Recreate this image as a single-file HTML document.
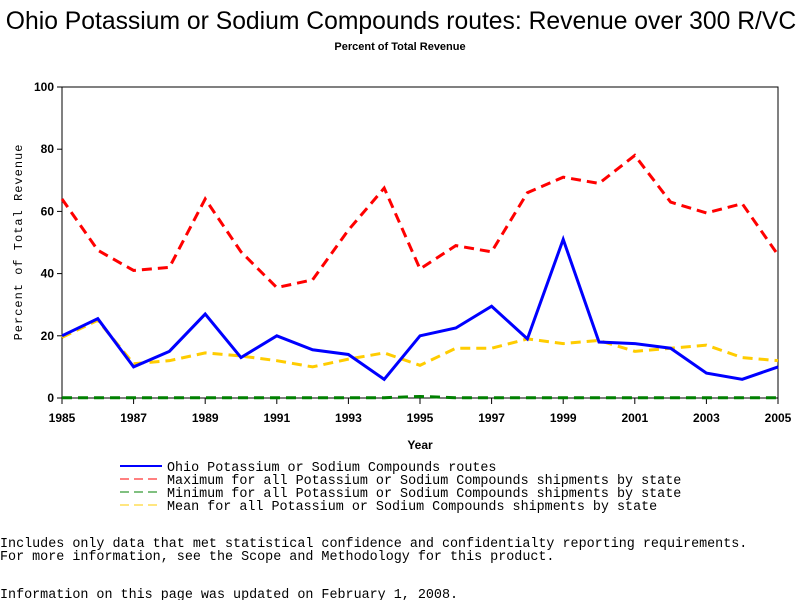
<!DOCTYPE html>
<html><head><meta charset="utf-8"><style>
body{margin:0;background:#fff;}
svg{display:block;}
.t{font-family:"Liberation Sans",sans-serif;}
.m{font-family:"Liberation Mono",monospace;}
</style></head><body>
<svg id="c" width="800" height="600" xmlns="http://www.w3.org/2000/svg">
<text class="t" x="401" y="29" font-size="24.7" text-anchor="middle">Ohio Potassium or Sodium Compounds routes: Revenue over 300 R/VC</text>
<text class="t" x="400" y="50" font-size="11" font-weight="bold" text-anchor="middle">Percent of Total Revenue</text>
<g id="axes"></g>
<g id="series"></g>
<text class="t" x="420" y="449" font-size="12" font-weight="bold" text-anchor="middle">Year</text>
<text class="m" transform="translate(22,242) rotate(-90)" font-size="12" text-anchor="middle" letter-spacing="1">Percent of Total Revenue</text>
<g>
<line x1="120" y1="466" x2="162" y2="466" stroke="#0000ff" stroke-width="2"/>
<text class="m" x="167" y="471" font-size="13.4">Ohio Potassium or Sodium Compounds routes</text>
<line x1="120" y1="479" x2="162" y2="479" stroke="#ff0000" stroke-width="1" stroke-dasharray="9,5"/>
<text class="m" x="167" y="484" font-size="13.4">Maximum for all Potassium or Sodium Compounds shipments by state</text>
<line x1="120" y1="492" x2="162" y2="492" stroke="#008000" stroke-width="1" stroke-dasharray="9,5"/>
<text class="m" x="167" y="497" font-size="13.4">Minimum for all Potassium or Sodium Compounds shipments by state</text>
<line x1="120" y1="505" x2="162" y2="505" stroke="#ffcc00" stroke-width="1" stroke-dasharray="9,5"/>
<text class="m" x="167" y="510" font-size="13.4">Mean for all Potassium or Sodium Compounds shipments by state</text>
</g>
<text class="m" x="0" y="547" font-size="13.4">Includes only data that met statistical confidence and confidentialty reporting requirements.</text>
<text class="m" x="0" y="560" font-size="13.4">For more information, see the Scope and Methodology for this product.</text>
<text class="m" x="0" y="598" font-size="13.4">Information on this page was updated on February 1, 2008.</text>
</svg>
<script>
const years=[1985,1986,1987,1988,1989,1990,1991,1992,1993,1994,1995,1996,1997,1998,1999,2000,2001,2002,2003,2004,2005];
const ohio=[20,25.5,10,15,27,13,20,15.5,14,6,20,22.5,29.5,19,51,18,17.5,16,8,6,10];
const maxv=[64,47.5,41,42,64,47,35.5,38,54,67.5,41.5,49,47,66,71,69,78,63,59.5,62.5,46];
const minv=[0.1,0.1,0.1,0.1,0.1,0.1,0.1,0.1,0.1,0.1,0.5,0.1,0.1,0.1,0.1,0.1,0.1,0.1,0.1,0.1,0.1];
const meanv=[19.5,25,11,12,14.5,13.5,12,10,12.5,14.5,10.5,16,16,19,17.5,18.5,15,16,17,13,12];
const yTicks=[0,20,40,60,80,100];
const xTicks=[1985,1987,1989,1991,1993,1995,1997,1999,2001,2003,2005];
const NS="http://www.w3.org/2000/svg";
const X0=62,X1=778,Y0=398,Y1=87;
const x=v=>X0+(v-1985)/(2005-1985)*(X1-X0);
const y=v=>Y0-v/100*(Y0-Y1);
function mk(tag,attrs,parent){const e=document.createElementNS(NS,tag);for(const k in attrs)e.setAttribute(k,attrs[k]);parent.appendChild(e);return e;}
const ax=document.getElementById('axes');
const frame=mk('rect',{x:X0,y:Y1,width:X1-X0,height:Y0-Y1,fill:'none',stroke:'#000','stroke-width':1},ax);


yTicks.forEach(v=>{
  const l=mk('line',{x1:X0-5,x2:X0,y1:y(v),y2:y(v),stroke:'#000'},ax);
  
  
  const t=mk('text',{x:X0-8,y:y(v)+4,'font-size':12,'font-weight':'bold','text-anchor':'end',class:'t'},ax);
  t.textContent=v;
  
  
});
xTicks.forEach(v=>{
  const l=mk('line',{x1:x(v),x2:x(v),y1:Y0,y2:Y0+6,stroke:'#000'},ax);
  
  
  const t=mk('text',{x:x(v),y:Y0+24,'font-size':12,'font-weight':'bold','text-anchor':'middle',class:'t'},ax);
  t.textContent=v;
  
  
});
const sg=document.getElementById('series');
function line(data,color,w,dash,name){
  const p=mk('polyline',{points:data.map((v,i)=>x(years[i])+','+y(v)).join(' '),fill:'none',stroke:color,'stroke-width':w},sg);
  if(dash)p.setAttribute('stroke-dasharray',dash);
  
  
}
line(minv,'#008000',3,'10,6','series-minimum');
line(maxv,'#ff0000',3,'10,6','series-maximum');
line(meanv,'#ffcc00',3,'10,6','series-mean');
line(ohio,'#0000ff',3,null,'series-ohio');
</script>
</body></html>
